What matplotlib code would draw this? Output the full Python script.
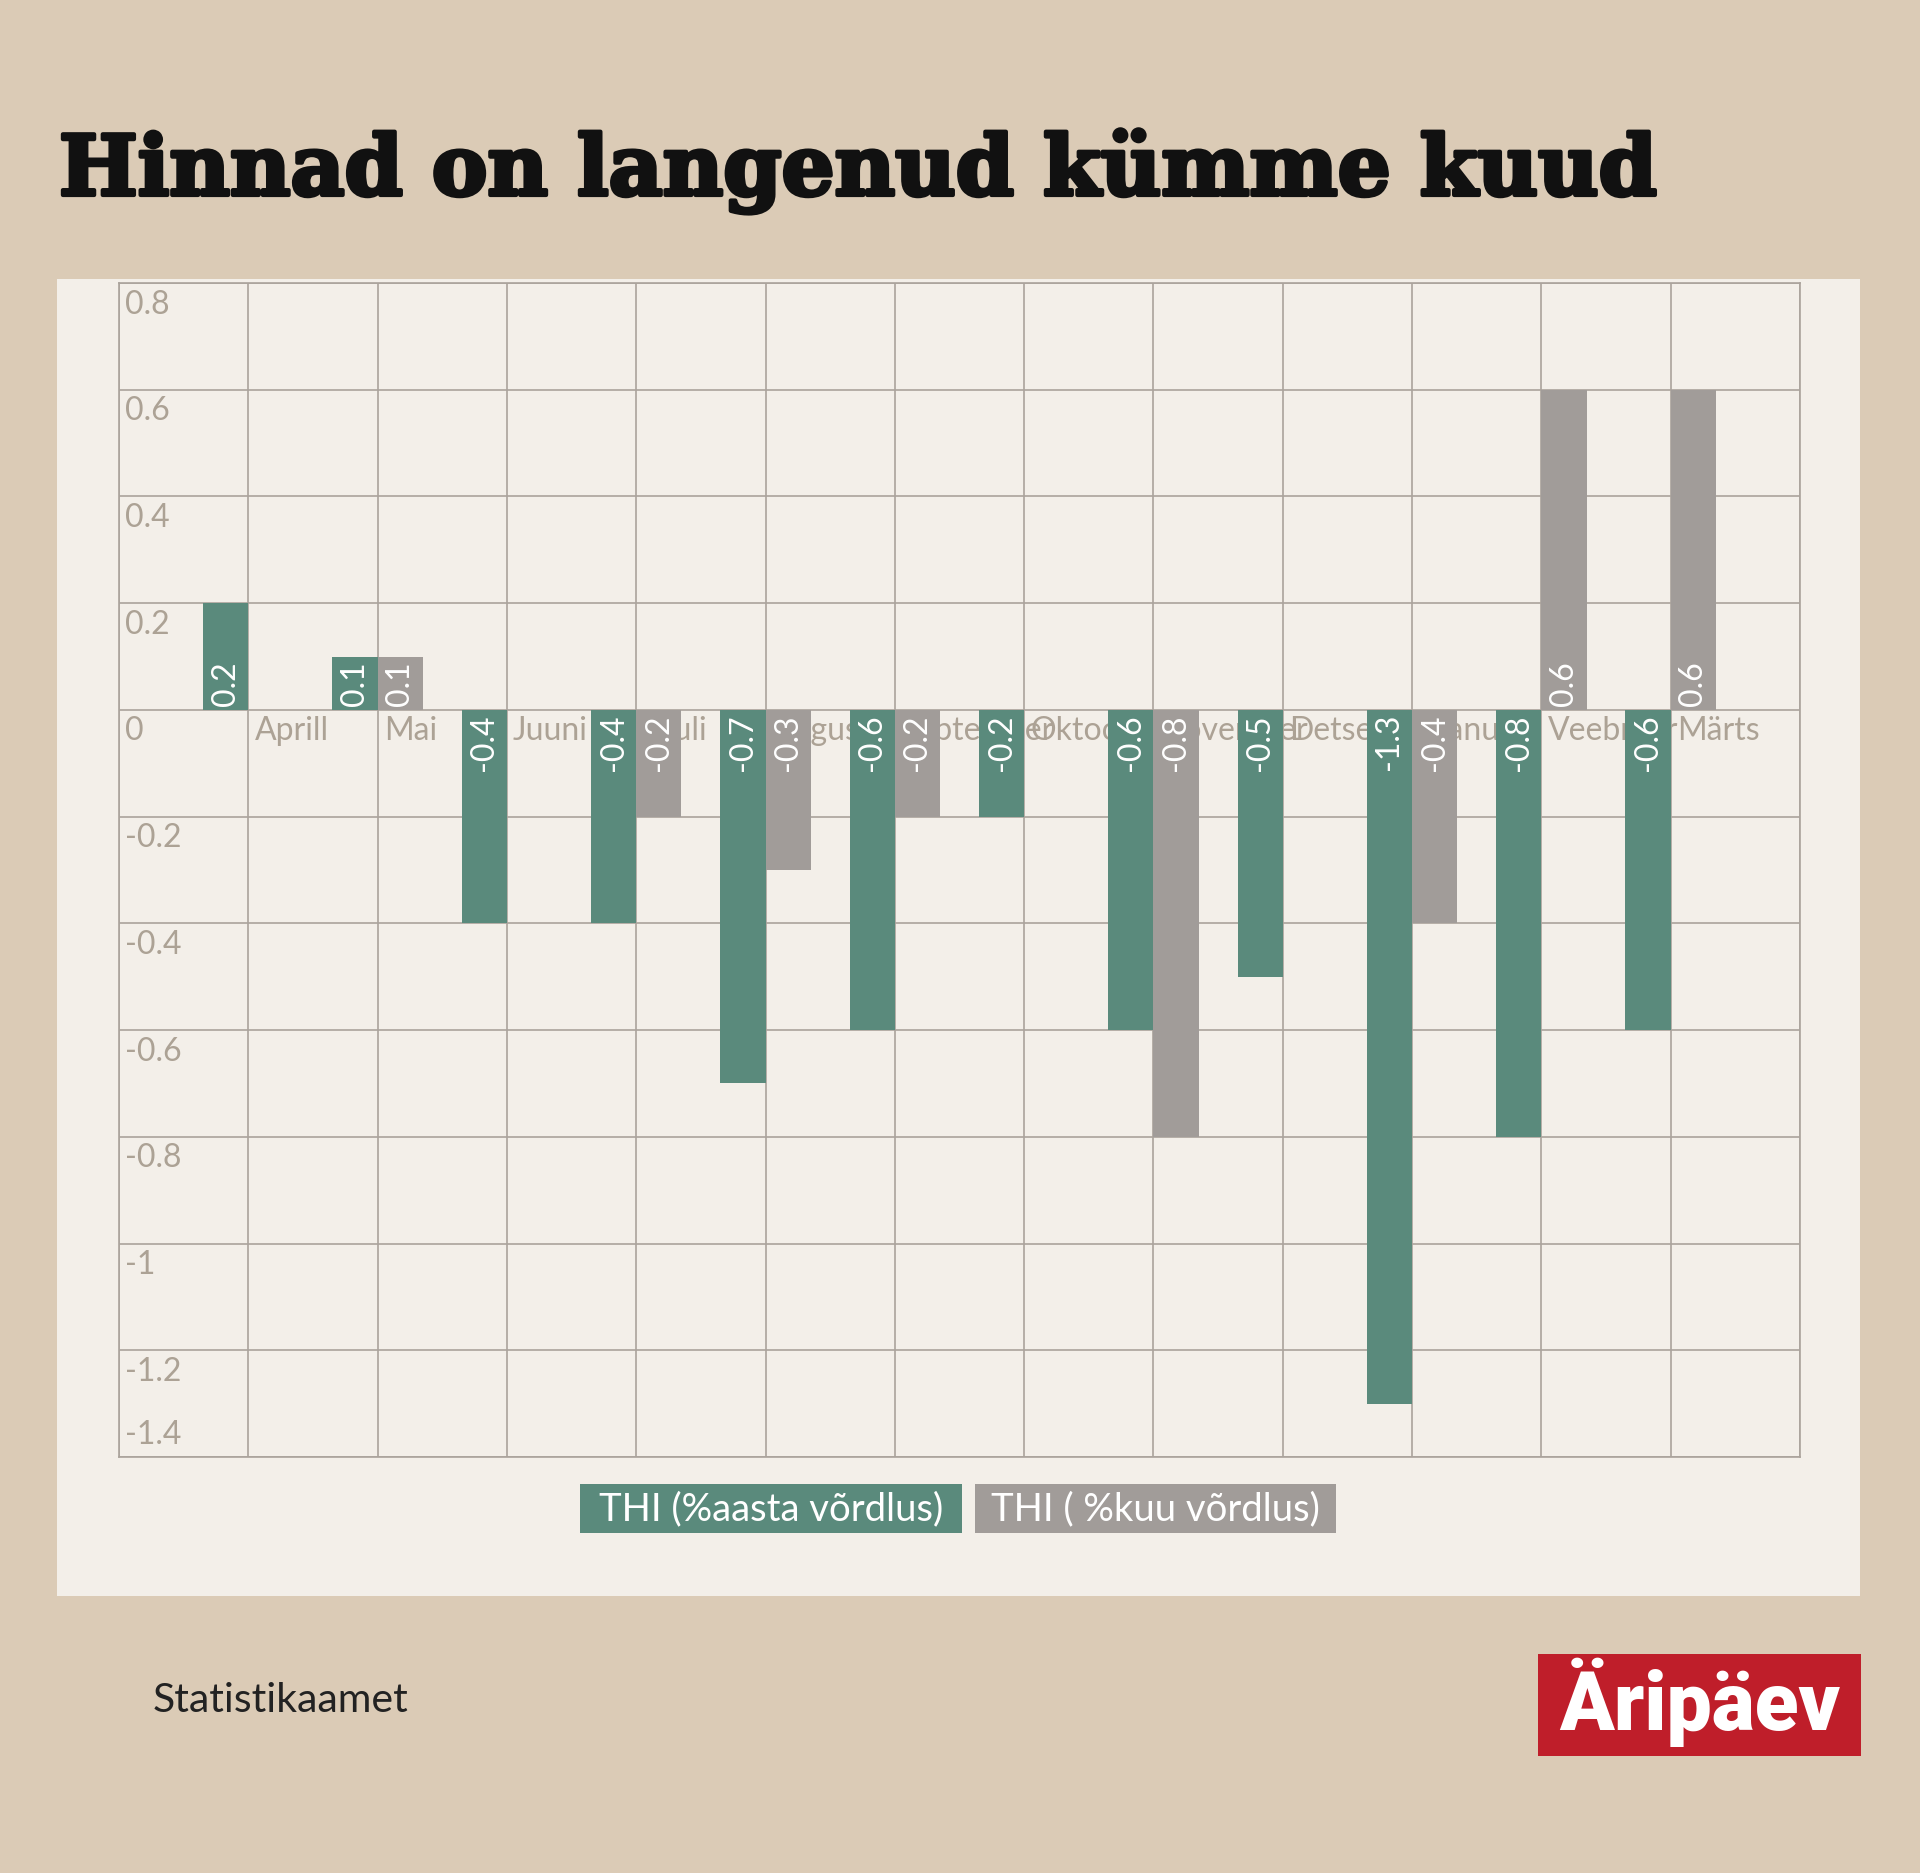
import numpy as np
import matplotlib
matplotlib.use("Agg")
from matplotlib import pyplot as plt
from matplotlib.patches import Rectangle
from matplotlib import patheffects


months = ["Aprill", "Mai", "Juuni", "Juuli", "August", "September",
          "Oktoober", "November", "Detsember", "Jaanuar", "Veebruar", "Märts"]
yearly = [0.2, 0.1, -0.4, -0.4, -0.7, -0.6, -0.2, -0.6, -0.5, -1.3, -0.8, -0.6]
monthly = [0.0, 0.1, 0.0, -0.2, -0.3, -0.2, 0.0, -0.8, 0.0, -0.4, 0.6, 0.6]
y_ticks = [0.8, 0.6, 0.4, 0.2, 0, -0.2, -0.4, -0.6, -0.8, -1, -1.2, -1.4]
y_labels = ["0.8", "0.6", "0.4", "0.2", "0", "-0.2", "-0.4", "-0.6", "-0.8", "-1", "-1.2", "-1.4"]
series = ["THI (%aasta võrdlus)", "THI ( %kuu võrdlus)"]

title = "Hinnad on langenud kümme kuud"
source = "Statistikaamet"

bg = "#dbcbb6"
panel = "#f3efe9"
green = "#5a8a7c"
grey = "#a19c99"
gridc = "#aaa39c"
labc = "#aca295"

W, H = 1920, 1873
fig = plt.figure(figsize=(W / 100, H / 100), dpi=100, facecolor=bg)

# light panel behind the chart
fig.patches.append(Rectangle((57 / W, 1 - 1596 / H), (1860 - 57) / W, (1596 - 279) / H,
                             transform=fig.transFigure, facecolor=panel,
                             edgecolor="none", zorder=-1))

ax = fig.add_axes([119 / W, 1 - 1457 / H, (1800 - 119) / W, (1457 - 283) / H])
ax.set_facecolor(panel)

x = np.arange(1, len(months) + 1)
w = 0.35
ax.bar(x - w / 2, yearly, w, color=green, zorder=3)
ax.bar(x + w / 2, monthly, w, color=grey, zorder=3)

ax.set_xlim(0, 13)
ax.set_ylim(-1.4, 0.8)
ax.set_xticks(range(14))
ax.set_yticks(y_ticks)
ax.tick_params(length=0, labelleft=False, labelbottom=False)
ax.set_axisbelow(True)
ax.grid(True, color=gridc, lw=1.2)
for s in ax.spines.values():
    s.set_color(gridc)
    s.set_linewidth(1.2)

# y labels sit inside the plot, just below their gridline
for yv, lab in zip(y_ticks, y_labels):
    dy = 15.5 if yv == y_ticks[-1] else -15.5
    ax.annotate(lab, (0, yv), xytext=(4.4, dy), textcoords="offset points",
                ha="left", va="center", color=labc, fontsize=23, family="Lato", zorder=2)

# month names start at the pair's centre, behind the bars
for xi, m in zip(x, months):
    ax.annotate(m, (xi, 0), xytext=(4.4, -15.5), textcoords="offset points",
                ha="left", va="center", color=labc, fontsize=23, family="Lato", zorder=2)

# value labels inside bars
for vals, off in ((yearly, -w / 2), (monthly, w / 2)):
    for xi, v in zip(x, vals):
        if v == 0:
            continue
        ax.annotate(f"{v:g}", (xi + off, 0), xytext=(0, 3 if v > 0 else -3),
                    textcoords="offset points", rotation=90, ha="center",
                    va="bottom" if v > 0 else "top", color="white",
                    fontsize=23, family="Lato", zorder=4)

# title
fig.text(59 / W, 1 - 195 / H, title, fontsize=60, fontweight="bold",
         family="DejaVu Serif", color="#111111", va="baseline",
         path_effects=[patheffects.withStroke(linewidth=3, foreground="#111111")])

# legend boxes
for (x0, x1), col, lab in (((580, 962), green, series[0]), ((975, 1336), grey, series[1])):
    fig.patches.append(Rectangle((x0 / W, 1 - 1533 / H), (x1 - x0) / W, 49 / H,
                                 transform=fig.transFigure, facecolor=col, edgecolor="none"))
    fig.text((x0 + x1) / 2 / W, 1 - 1509 / H, lab, ha="center", va="center",
             color="white", fontsize=27.5, family="Lato")

fig.text(153 / W, 1 - 1700 / H, source, ha="left", va="center",
         color="#222222", fontsize=29.5, family="Lato")

# logo
fig.patches.append(Rectangle((1538 / W, 1 - 1756 / H), 323 / W, 102 / H,
                             transform=fig.transFigure, facecolor="#bf1e2a", edgecolor="none"))
fig.text(1700 / W, 1 - 1702 / H, "Äripäev", ha="center", va="center",
         color="white", fontsize=58, fontweight="heavy", family="Roboto")

fig.savefig("out.png", dpi=100, facecolor=bg)
